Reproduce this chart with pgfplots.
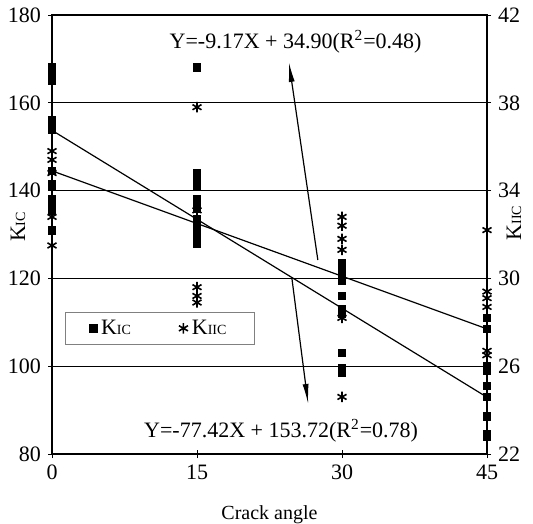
\documentclass[border=0pt]{standalone}
\usepackage{fontspec}
\setmainfont{Liberation Serif}
\usepackage{pgfplots}
\pgfplotsset{compat=1.18}
\usetikzlibrary{arrows.meta}
\newcommand{\KIC}{K{\scriptsize IC}}
\newcommand{\KIIC}{K{\scriptsize IIC}}

% KIC (left axis) squares
\pgfplotstableread{
x y
0 168
0 166
0 165
0 156
0 155
0 154
0 144.5
0 141.5
0 141
0 138
0 136.5
0 135.5
0 131
15 168
15 144
15 143
15 141
15 138
15 136
15 133.5
15 132
15 131
15 129.5
15 128
30 123.5
30 122
30 120.5
30 119.5
30 116
30 113
30 112
30 103
30 99.5
30 98.5
45 111
45 108.5
45 100
45 99
45 95.5
45 93
45 88.5
45 84.5
45 84
}\kic
% KIIC (right axis) stars
\pgfplotstableread{
x y
0 35.8
0 35.4
0 34.8
0 32.8
0 31.5
15 37.8
15 33.1
15 29.6
15 29.2
15 28.9
30 32.8
30 32.4
30 31.8
30 31.3
30 28.2
30 24.6
45 32.2
45 29.4
45 29.1
45 28.7
45 26.7
45 26.5
}\kiic

\begin{document}
\begin{tikzpicture}
\pgfplotsset{
  every axis/.append style={
    scale only axis, width=217.5pt, height=219.5pt,
    xmin=0, xmax=45,
    tick align=center, major tick length=4pt,
    tick style={black, thin},
    ticklabel style={font=\fontsize{11}{13}\selectfont},
    /pgf/number format/assume math mode=true,
    axis line style={line width=0.8pt},
  }
}
\begin{axis}[
  name=ax,
  ymin=80, ymax=180,
  xtick={0,15,30,45}, ytick={80,100,...,180},
  xtick pos=bottom, ytick pos=left,
  ymajorgrids, grid style={black, line width=0.5pt},
  xlabel={Crack angle}, xlabel style={font=\fontsize{10}{12}\selectfont, yshift=-6pt},
  ylabel={\KIC}, ylabel style={font=\fontsize{11}{13}\selectfont,
    at={(axis description cs:-0.078,0.517)}, anchor=center},
  legend style={at={(0.03,0.323)}, anchor=north west, draw=black!50,
    legend columns=2, font=\fontsize{11}{13}\selectfont,
    inner xsep=12pt, inner ysep=1.5pt,
    /tikz/every even column/.append style={column sep=22pt}},
]
\addplot[only marks, mark=square*, mark size=1.9pt, black] table {\kic};
\addlegendentry{\KIC}
\addlegendimage{only marks, mark=asterisk, mark size=2.6pt, black, thick}
\addlegendentry{\KIIC}
\addplot[black, line width=0.6pt, forget plot] coordinates {(0,153.72) (45,92.94)};
\draw[line width=0.6pt, -{Latex[length=10pt,width=3pt]}] (axis cs:27.5,124.2) -- (axis cs:24.5,169.3);
\draw[line width=0.6pt, -{Latex[length=10pt,width=3pt]}] (axis cs:24.8,120.3) -- (axis cs:26.5,91.4);
\node[font=\fontsize{11}{13}\selectfont] at (axis cs:25.2,173.8) {Y=-9.17X + 34.90(R\textsuperscript{2}=0.48)};
\node[font=\fontsize{11}{13}\selectfont] at (axis cs:23.7,85.3) {Y=-77.42X + 153.72(R\textsuperscript{2}=0.78)};
\end{axis}
\begin{axis}[
  ymin=22, ymax=42,
  ytick={22,26,...,42},
  hide x axis, axis y line*=right, clip=false,
]
\addplot[only marks, mark=asterisk, mark size=2.6pt, black, thick] table {\kiic};
\addplot[black, line width=0.6pt] coordinates {(0,34.90) (45,27.70)};
\node[rotate=90, font=\fontsize{11}{13}\selectfont] at (rel axis cs:1.062,0.526) {\KIIC};
\end{axis}
\pgfresetboundingbox
\path ([xshift=-26pt,yshift=-34.5pt]ax.south west) rectangle ([xshift=23pt,yshift=7.5pt]ax.north east);
\end{tikzpicture}
\end{document}
